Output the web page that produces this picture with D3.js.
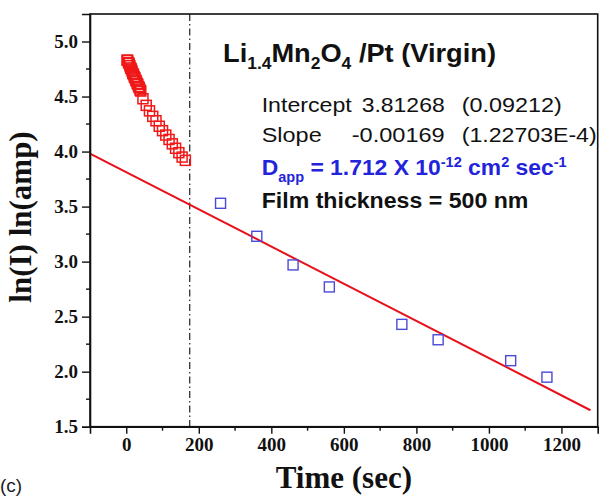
<!DOCTYPE html>
<html><head><meta charset="utf-8">
<script src="https://cdn.jsdelivr.net/npm/d3@7"></script>
<style>body{margin:0;background:#fff}</style>
</head><body>
<svg id="c" width="600" height="496" xmlns="http://www.w3.org/2000/svg"></svg>
<script>
// ---- data ----
const redTime = [2,4,6,8,10,12,14,16,18,20,22,24,26,28,30,32,34,36,38,40,
                 46,55,64,73,82,91,100,109,118,127,136,145,154,163];
const redLnI  = [4.83,4.83,4.81,4.80,4.78,4.76,4.75,4.73,4.71,4.70,4.68,4.67,4.65,4.64,4.62,4.61,4.59,4.58,4.56,4.55,
                 4.48,4.42,4.37,4.32,4.28,4.23,4.19,4.15,4.11,4.07,4.03,3.99,3.95,3.92];
const blueTime = [260,360,460,560,760,860,1060,1160];
const blueLnI  = [3.53,3.23,2.97,2.77,2.43,2.29,2.10,1.95];
const fitIntercept = 3.81268;
const fitSlope = -0.00169;
const fitTimeRange = [-100, 1280];
const cutoffTime = 175;
const xTicks = [0,200,400,600,800,1000,1200];
const xMinor = [100,300,500,700,900,1100];
const yTicks = [1.5,2.0,2.5,3.0,3.5,4.0,4.5,5.0];
const yMinor = [1.75,2.25,2.75,3.25,3.75,4.25,4.75];

// ---- layout ----
const L = 90, R = 597.7, T = 14, B = 426.7;
const x = d3.scaleLinear().domain([-100, 1300]).range([L, R]);
const y = d3.scaleLinear().domain([1.5, 5.25]).range([B, T]);
const svg = d3.select("#c");
const serif = "'Liberation Serif','Times New Roman',serif";
const sans = "'Liberation Sans',Arial,sans-serif";

// cutoff dash-dot line
svg.append("line").attr("x1", x(cutoffTime)).attr("x2", x(cutoffTime))
  .attr("y1", T).attr("y2", B).attr("stroke", "#222").attr("stroke-width", 1.2)
  .attr("stroke-dasharray", "7,3,1.5,3");

// fit line
svg.append("line")
  .attr("x1", x(fitTimeRange[0])).attr("y1", y(fitIntercept + fitSlope * fitTimeRange[0]))
  .attr("x2", x(fitTimeRange[1])).attr("y2", y(fitIntercept + fitSlope * fitTimeRange[1]))
  .attr("stroke", "#e8101a").attr("stroke-width", 2);

// markers
const ms = 10;
svg.append("g").selectAll("rect").data(redTime).join("rect")
  .attr("x", (d) => x(d) - ms/2).attr("y", (d, i) => y(redLnI[i]) - ms/2)
  .attr("width", ms).attr("height", ms)
  .attr("fill", "none").attr("stroke", "#f01818").attr("stroke-width", 1.5);
svg.append("g").selectAll("rect").data(blueTime).join("rect")
  .attr("x", (d) => x(d) - ms/2).attr("y", (d, i) => y(blueLnI[i]) - ms/2)
  .attr("width", ms).attr("height", ms)
  .attr("fill", "none").attr("stroke", "#4a4ad8").attr("stroke-width", 1.4);

// frame
svg.append("rect").attr("x", L).attr("y", T).attr("width", R - L).attr("height", B - T)
  .attr("fill", "none").attr("stroke", "#111").attr("stroke-width", 1.6);

// x axis
const gx = svg.append("g").attr("transform", `translate(0,${B})`)
  .call(d3.axisBottom(x).tickValues(xTicks).tickSize(7).tickPadding(4).tickFormat(d3.format("d")));
gx.append("g").selectAll("line").data(xMinor).join("line")
  .attr("x1", (d) => x(d)).attr("x2", (d) => x(d)).attr("y1", 0).attr("y2", 4)
  .attr("stroke", "#111").attr("stroke-width", 1.4);
// y axis
const gy = svg.append("g").attr("transform", `translate(${L},0)`)
  .call(d3.axisLeft(y).tickValues(yTicks).tickSize(8).tickPadding(4).tickFormat(d3.format(".1f")));
gy.append("g").selectAll("line").data(yMinor).join("line")
  .attr("y1", (d) => y(d)).attr("y2", (d) => y(d)).attr("x1", 0).attr("x2", -4)
  .attr("stroke", "#111").attr("stroke-width", 1.4);
[gx, gy].forEach((g) => {
  g.select(".domain").attr("stroke", "#111").attr("stroke-width", 1.6);
  g.selectAll(".tick line").attr("stroke", "#111").attr("stroke-width", 1.4);
  g.selectAll(".tick text").attr("fill", "#111").style("font-family", serif)
    .style("font-weight", "bold").style("font-size", "19px");
});

// axis titles
svg.append("text").attr("x", x(600)).attr("y", 488).attr("text-anchor", "middle")
  .style("font-family", serif).style("font-weight", "bold").style("font-size", "31px")
  .attr("fill", "#111").text("Time (sec)");
svg.append("text").attr("transform", "translate(31,217) rotate(-90)").attr("text-anchor", "middle")
  .style("font-family", serif).style("font-weight", "bold").style("font-size", "31px")
  .attr("fill", "#111").text("ln(I) ln(amp)");
svg.append("text").attr("x", 0).attr("y", 492)
  .style("font-family", sans).style("font-size", "19px").attr("fill", "#222").text("(c)");

// annotation title
const t1 = svg.append("text").attr("x", 223).attr("y", 62)
  .style("font-family", sans).style("font-weight", "bold").style("font-size", "25px").attr("fill", "#111")
  .attr("textLength", 273).attr("lengthAdjust", "spacingAndGlyphs");
[["Li",0],["1.4",1],["Mn",0],["2",1],["O",0],["4",1],[" /Pt (Virgin)",0]].forEach(([s, sub], i, arr) => {
  const prevSub = i > 0 ? arr[i-1][1] : 0;
  const ts = t1.append("tspan").text(s);
  if (sub) ts.style("font-size", "16px").attr("dy", prevSub ? 0 : 7);
  else if (prevSub) ts.attr("dy", -7);
});

// stats lines
function txt(xp, yp, s, w, opts = {}) {
  return svg.append("text").attr("x", xp).attr("y", yp)
    .style("font-family", sans).style("font-size", opts.size || "21px")
    .style("font-weight", opts.bold ? "bold" : "normal").attr("fill", opts.fill || "#111")
    .attr("textLength", w).attr("lengthAdjust", "spacingAndGlyphs").text(s);
}
txt(261.7, 112.3, "Intercept", 90);
txt(361.7, 112.3, "3.81268", 83);
txt(461.7, 112.3, "(0.09212)", 100);
txt(261.7, 141.7, "Slope", 60);
txt(351.7, 141.7, "-0.00169", 93);
txt(461.7, 141.7, "(1.22703E-4)", 135);

const t2 = svg.append("text").attr("x", 261.7).attr("y", 175)
  .style("font-family", sans).style("font-weight", "bold").style("font-size", "22px").attr("fill", "#2323dc")
  .attr("textLength", 305).attr("lengthAdjust", "spacingAndGlyphs");
t2.append("tspan").text("D");
t2.append("tspan").text("app").style("font-size", "14px").attr("dy", 7);
t2.append("tspan").text(" = 1.712 X 10").attr("dy", -7);
t2.append("tspan").text("-12").style("font-size", "14px").attr("dy", -8);
t2.append("tspan").text(" cm").attr("dy", 8);
t2.append("tspan").text("2").style("font-size", "14px").attr("dy", -8);
t2.append("tspan").text(" sec").attr("dy", 8);
t2.append("tspan").text("-1").style("font-size", "14px").attr("dy", -8);

txt(261.7, 208.3, "Film thickness = 500 nm", 266.7, {bold: true, size: "22px"});
</script>
</body></html>
